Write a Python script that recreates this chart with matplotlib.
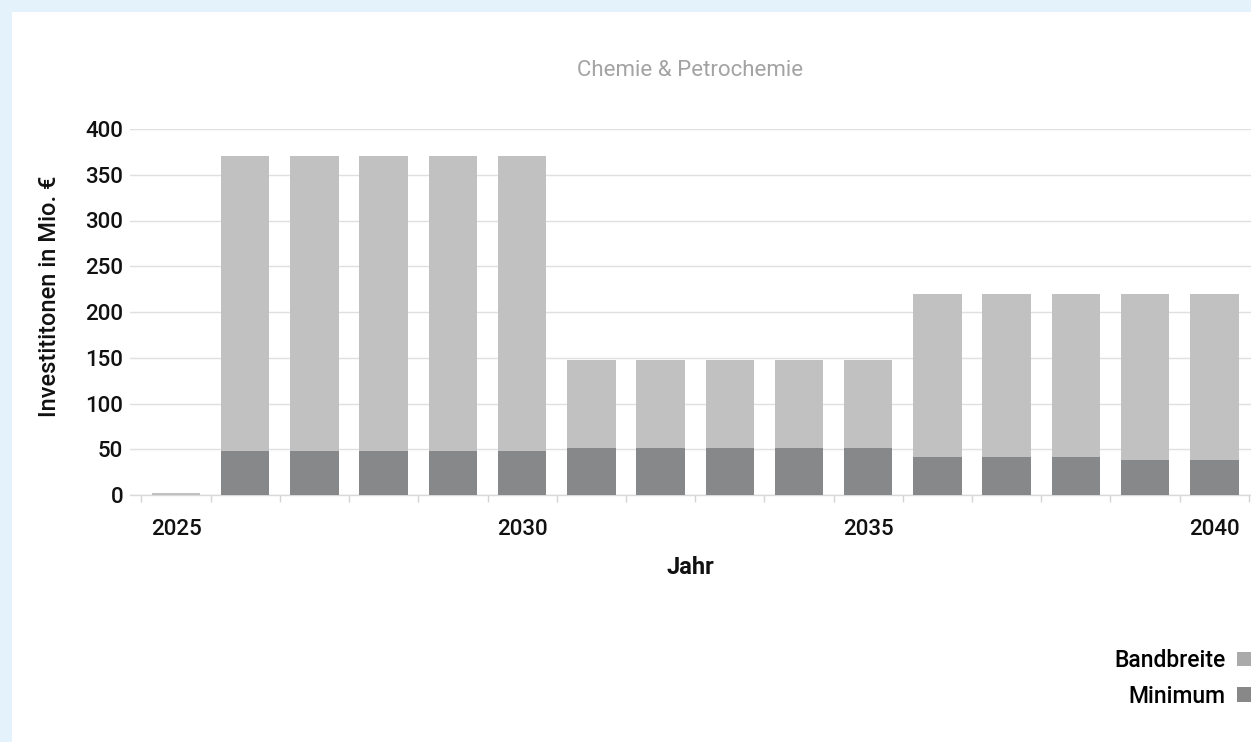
import matplotlib
matplotlib.use("Agg")
import matplotlib.pyplot as plt
from matplotlib.patches import Rectangle, Patch
import numpy as np

plt.rcParams["font.family"] = ["Roboto", "DejaVu Sans"]

# Investment range per year (Mio. EUR)
years = [2025, 2026, 2027, 2028, 2029, 2030, 2031, 2032,
         2033, 2034, 2035, 2036, 2037, 2038, 2039, 2040]
minimum = [0, 48, 48, 48, 48, 48, 51, 51, 51, 51, 51, 41, 41, 41, 38, 38]
maximum = [2, 370, 370, 370, 370, 370, 147, 147, 147, 147, 147,
           220, 220, 220, 220, 220]
labeled_years = [2025, 2030, 2035, 2040]
y_ticks = [0, 50, 100, 150, 200, 250, 300, 350, 400]

title = "Chemie & Petrochemie"
y_label = "Investititonen in Mio. €"
x_label = "Jahr"

col_band = "#c0c1c0"
col_min = "#87888a"
legend_band = "#aaaaaa"
legend_min = "#888888"
text_col = "#111111"

W, H = 1251, 742
fig = plt.figure(figsize=(W / 100, H / 100), dpi=100)
fig.patch.set_facecolor("#e4f2fb")
fig.patches.append(Rectangle((12 / W, 0), 1 - 12 / W, 1 - 12 / H,
                             transform=fig.transFigure, facecolor="white",
                             edgecolor="none", zorder=-10))

left, right = 130, 1251
bottom, top = 495, 129
ax = fig.add_axes([left / W, (H - bottom) / H, (right - left) / W, (bottom - top) / H])
ax.set_facecolor("none")

x = np.arange(len(years))
band = np.array(maximum) - np.array(minimum)
ax.bar(x, minimum, width=0.7, color=col_min, zorder=3, linewidth=0)
ax.bar(x, band, bottom=minimum, width=0.7, color=col_band, zorder=3, linewidth=0)

ax.set_xlim(-0.665, 15.53)
ax.set_ylim(0, 400)

ax.set_yticks(y_ticks)
ax.yaxis.grid(True, color="#e0e0e0", linewidth=1.0, zorder=0)
ax.tick_params(axis="y", length=0, pad=5, labelsize=16, labelcolor=text_col)

major = [years.index(y) for y in labeled_years]
ax.set_xticks(major)
ax.set_xticklabels([str(y) for y in labeled_years])
ax.set_xticks(np.arange(-0.5, len(years)), minor=True)
ax.tick_params(axis="x", which="major", length=0, pad=17, labelsize=16,
               labelcolor=text_col)
ax.tick_params(axis="x", which="minor", length=5, width=1, color="#d4d4d4")
for lbl in ax.get_xticklabels() + ax.get_yticklabels():
    lbl.set_fontweight("medium")

for s in ["top", "right", "left"]:
    ax.spines[s].set_visible(False)
ax.spines["bottom"].set_color("#d9d9d9")
ax.spines["bottom"].set_linewidth(1.0)

ax.set_title(title, color="#a3a3a3", fontsize=16, pad=38)
ax.set_xlabel(x_label, fontsize=17, fontweight="bold", color=text_col, va="center")
ax.xaxis.set_label_coords(0.5, (bottom - 567) / (bottom - top))
ax.set_ylabel(y_label, fontsize=17, fontweight="medium", color=text_col, va="center")
ax.yaxis.set_label_coords((50 - left) / (right - left), (bottom - 296) / (bottom - top))

handles = [Patch(facecolor=legend_band, edgecolor="none", label="Bandbreite"),
           Patch(facecolor=legend_min, edgecolor="none", label="Minimum")]
fig.legend(handles=handles, loc="upper right", bbox_to_anchor=(1.0, (H - 649) / H),
           markerfirst=False, frameon=False, handlelength=0.6,
           handleheight=0.6, handletextpad=0.5, labelspacing=0.55,
           borderaxespad=0.0, borderpad=0.0,
           prop={"size": 16.5, "weight": "medium"})

fig.savefig("out.png", dpi=100)
